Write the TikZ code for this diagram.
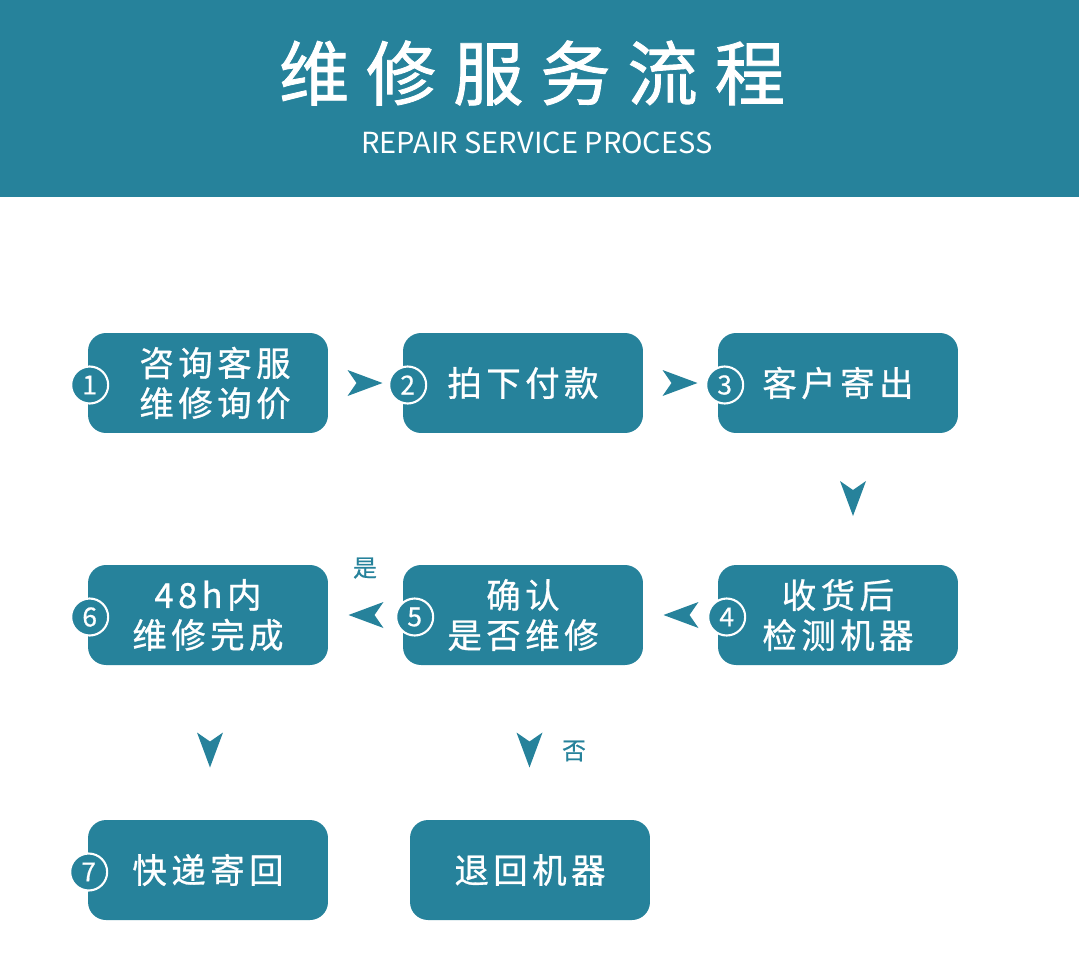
\documentclass[tikz,border=0pt]{standalone}
\usepackage{fontspec}
\usetikzlibrary{calc}
\setmainfont{Noto Sans CJK SC}
\newfontfamily\boxfont[LetterSpace=13,FakeBold=0.8]{Noto Sans CJK SC}
\newfontfamily\titlefont[LetterSpace=24,FakeBold=1.2]{Noto Sans CJK SC}
\newfontfamily\numfont[FakeBold=0.6]{Noto Sans CJK SC}
\definecolor{flow}{HTML}{26829B}

% arrow marker: #1 position, #2 angle
\newcommand{\pointer}[2]{%
  \fill[flow,shift={#1},rotate=#2] (17,0) -- (-18,-13) -- (-9,0) -- (-18,13) -- cycle;}

\begin{document}
\begin{tikzpicture}[x=0.02cm,y=-0.02cm,
    stepbox/.style={fill=flow,rounded corners=0.36cm,minimum width=4.8cm,minimum height=2cm,
      inner sep=0pt,text=white,align=center,font=\boxfont\fontsize{19.6}{22.8}\selectfont},
    num/.style={circle,fill=flow,draw=white,line width=1.2pt,minimum size=0.74cm,
      inner sep=0pt,text=white,font=\numfont\fontsize{15}{15}\selectfont},
    hint/.style={text=flow,font=\numfont\fontsize{13.6}{14}\selectfont}]
    \useasboundingbox (0,0) rectangle (1079,961);

    % header
    \fill[flow] (0,0) rectangle (1079,197);
    \node[text=white,font=\titlefont\fontsize{40}{40}\selectfont] (title) at (532,73) {维修服务流程};
    \node[text=white,font=\fontsize{16.5}{17}\selectfont] (subtitle) at (537,143) {REPAIR SERVICE PROCESS};

    % steps
    \node[stepbox] (s1) at (208,383) {\hspace*{8pt}咨询客服\\\hspace*{8pt}维修询价};
    \node[stepbox] (s2) at (523,383) {拍下付款};
    \node[stepbox] (s3) at (838,383) {客户寄出};
    \node[stepbox] (s4) at (838,615) {收货后\\检测机器};
    \node[stepbox] (s5) at (523,615) {确认\\是否维修};
    \node[stepbox] (s6) at (208,615) {48h内\\维修完成};
    \node[stepbox] (s7) at (208,870) {快递寄回};
    \node[stepbox] (back) at (530,870) {退回机器};

    % numbers
    \foreach \i/\dx in {1/2,2/5,3/7,4/9,5/12,6/2,7/1}
        \node[num] (n\i) at ($(s\i.west)+(\dx,2)$) {\i};

    % arrows
    \pointer{($(s1.east)!0.5!(s2.west)$)}{0}
    \pointer{($(s2.east)!0.5!(s3.west)$)}{0}
    \pointer{($(s3.south)!0.5!(s4.north)+(15,0)$)}{-90}
    \pointer{($(s4.west)!0.5!(s5.east)$)}{180}
    \pointer{($(s5.west)!0.5!(s6.east)$)}{180}
    \pointer{($(s6.south)!0.5!(s7.north)+(2,8)$)}{-90}
    \pointer{($(s5.south)!0.5!(back.north)+(3,8)$)}{-90}

    \node[hint] (yes) at (365,568) {是};
    \node[hint] (no) at (574,751) {否};
\end{tikzpicture}
\end{document}
